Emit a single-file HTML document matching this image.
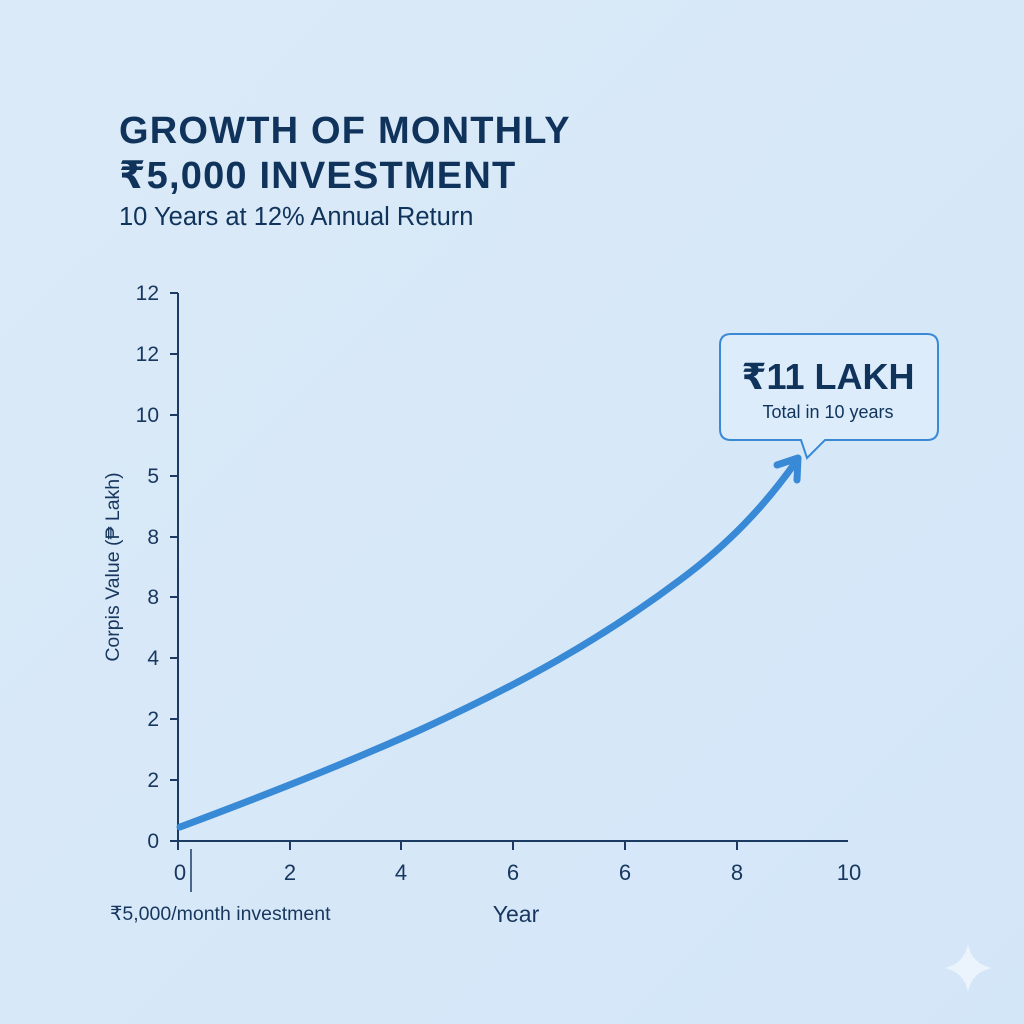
<!DOCTYPE html>
<html><head><meta charset="utf-8"><style>
html,body{margin:0;padding:0;background:#d7e9f9;}
svg{display:block}
</style></head><body>
<svg width="1024" height="1024" viewBox="0 0 1024 1024" xmlns="http://www.w3.org/2000/svg">
<defs><linearGradient id="bg" x1="0" y1="0" x2="1" y2="1"><stop offset="0" stop-color="#dbeaf8"/><stop offset="1" stop-color="#d3e6f8"/></linearGradient></defs>
<rect width="1024" height="1024" fill="url(#bg)"/>
<g font-family="'Liberation Sans', 'DejaVu Sans', sans-serif" fill="#10335c">
<text x="119" y="143" font-size="38" font-weight="bold" letter-spacing="1.2">GROWTH OF MONTHLY</text>
<text x="119" y="188" font-size="38" font-weight="bold" letter-spacing="1.2">₹5,000 INVESTMENT</text>
<text x="119" y="225" font-size="25.5">10 Years at 12% Annual Return</text>
</g>
<g stroke="#1b3b63" stroke-width="2" fill="none">
<line x1="178" y1="293" x2="178" y2="842"/>
<line x1="170" y1="841" x2="848" y2="841"/>
<line x1="170" y1="293" x2="178" y2="293"/>
<line x1="170" y1="354" x2="178" y2="354"/>
<line x1="170" y1="415" x2="178" y2="415"/>
<line x1="170" y1="476" x2="178" y2="476"/>
<line x1="170" y1="537" x2="178" y2="537"/>
<line x1="170" y1="597" x2="178" y2="597"/>
<line x1="170" y1="658" x2="178" y2="658"/>
<line x1="170" y1="719" x2="178" y2="719"/>
<line x1="170" y1="780" x2="178" y2="780"/>
<line x1="178" y1="841" x2="178" y2="850"/>
<line x1="290" y1="841" x2="290" y2="850"/>
<line x1="401" y1="841" x2="401" y2="850"/>
<line x1="513" y1="841" x2="513" y2="850"/>
<line x1="625" y1="841" x2="625" y2="850"/>
<line x1="737" y1="841" x2="737" y2="850"/>
<line x1="191" y1="849" x2="191" y2="892" stroke-width="1.5"/>
</g>
<g font-family="'Liberation Sans', 'DejaVu Sans', sans-serif" fill="#17375e" font-size="21" text-anchor="end">
<text x="159" y="300">12</text><text x="159" y="361">12</text><text x="159" y="422">10</text>
<text x="159" y="483">5</text><text x="159" y="544">8</text><text x="159" y="604">8</text>
<text x="159" y="665">4</text><text x="159" y="726">2</text><text x="159" y="787">2</text>
<text x="159" y="848">0</text>
</g>
<g font-family="'Liberation Sans', 'DejaVu Sans', sans-serif" fill="#17375e" font-size="22" text-anchor="middle">
<text x="180" y="880">0</text><text x="290" y="880">2</text><text x="401" y="880">4</text>
<text x="513" y="880">6</text><text x="625" y="880">6</text><text x="737" y="880">8</text><text x="849" y="880">10</text>
<text x="516" y="922" font-size="23">Year</text>
<text x="110" y="920" font-size="19.5" text-anchor="start">₹5,000/month investment</text>
<text transform="translate(119,567) rotate(-90)" font-size="19.5">Corpis Value (₱ Lakh)</text>
</g>
<path d="M180,827 C260,797 340,766 420,730 C520,684 600,640 680,580 C730,543 765,505 795,463" stroke="#3889d6" stroke-width="7" fill="none" stroke-linecap="round"/>
<path d="M777,465 L798,458 L797,480" stroke="#3889d6" stroke-width="7" fill="none" stroke-linecap="round" stroke-linejoin="round"/>
<path d="M731,334 H927 Q938,334 938,345 V429 Q938,440 927,440 H825 L807,458 L801,440 H731 Q720,440 720,429 V345 Q720,334 731,334 Z" fill="#dcecfb" stroke="#3a89d5" stroke-width="2"/>
<g font-family="'Liberation Sans', 'DejaVu Sans', sans-serif" fill="#10335c" text-anchor="middle">
<text x="828" y="389" font-size="36" font-weight="bold">₹11 LAKH</text>
<text x="828" y="418" font-size="18">Total in 10 years</text>
</g>
<path d="M968,944 Q972,964 992,968 Q972,972 968,992 Q964,972 944,968 Q964,964 968,944 Z" fill="#ebf4fd"/>
</svg>
</body></html>
